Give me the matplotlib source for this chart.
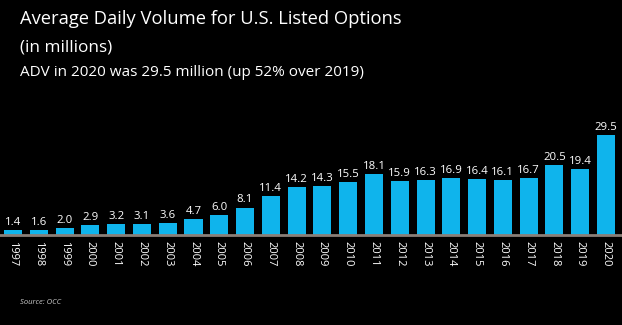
import matplotlib
matplotlib.use("Agg")
import matplotlib.pyplot as plt

years = [str(y) for y in range(1997, 2021)]
values = [1.4, 1.6, 2.0, 2.9, 3.2, 3.1, 3.6, 4.7, 6.0, 8.1, 11.4, 14.2, 14.3,
          15.5, 18.1, 15.9, 16.3, 16.9, 16.4, 16.1, 16.7, 20.5, 19.4, 29.5]
labels = ["1.4", "1.6", "2.0", "2.9", "3.2", "3.1", "3.6", "4.7", "6.0", "8.1", "11.4",
          "14.2", "14.3", "15.5", "18.1", "15.9", "16.3", "16.9", "16.4", "16.1",
          "16.7", "20.5", "19.4", "29.5"]

plt.rcParams['font.family'] = ['Open Sans', 'DejaVu Sans']

fig = plt.figure(figsize=(6.22, 3.25), dpi=100, facecolor='black')
ax = fig.add_axes([0.0, 90/325, 1.0, 115/325])
ax.set_facecolor('black')
x = list(range(len(years)))
ax.bar(x, values, width=0.7, color='#0FB4EC', zorder=2)
ax.set_xlim(-0.504, 23.62)
ax.set_ylim(0, 33.9)
for xi, v, lab in zip(x, values, labels):
    ax.text(xi, v + 0.6, lab, ha='center', va='bottom', color='white', fontsize=8.2)
ax.set_xticks(x)
ax.set_xticklabels(years, rotation=270, color='white', fontsize=8)
ax.tick_params(axis='x', length=0, pad=4)
ax.set_yticks([])
for s in ['top', 'right', 'left']:
    ax.spines[s].set_visible(False)
ax.spines['bottom'].set_color('#8a7f78')
ax.spines['bottom'].set_linewidth(2)

fig.text(20/622, 1 - 19/325, "Average Daily Volume for U.S. Listed Options", color='white',
         fontsize=13.2, ha='left', va='center')
fig.text(20/622, 1 - 47/325, "(in millions)", color='white', fontsize=12.3, ha='left', va='center')
fig.text(20/622, 1 - 72/325, "ADV in 2020 was 29.5 million (up 52% over 2019)", color='white',
         fontsize=11, ha='left', va='center')
fig.text(20/622, 1 - 302/325, "Source: OCC", color='#cccccc', fontsize=5.5, style='italic',
         ha='left', va='center')

fig.savefig('out.png', dpi=100, facecolor='black')
